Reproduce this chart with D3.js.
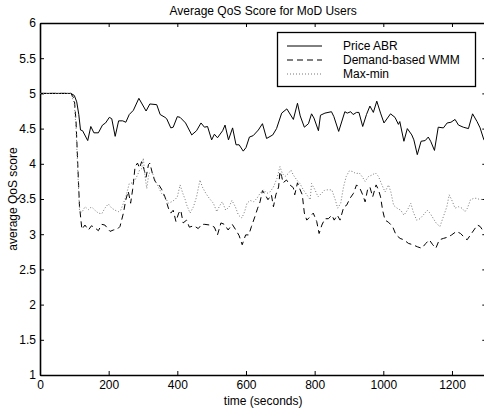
<!DOCTYPE html>
<html>
<head>
<meta charset="utf-8">
<script src="https://cdn.jsdelivr.net/npm/d3@7"></script>
<style>
  body { margin: 0; background: #fff; }
  svg text { font-family: "Liberation Sans", Arial, sans-serif; fill: #000; }
</style>
</head>
<body>
<svg id="chart" width="484" height="411"></svg>
<script>
// time points (s) and scores
const abrT = [0, 90, 100, 107, 113, 118, 124, 139, 148, 157, 170, 182, 191, 202, 209, 219, 229, 241, 250, 260, 272, 288, 309, 320, 340, 350, 364, 369, 381, 388, 400, 408, 424, 442, 456, 469, 479, 488, 500, 508, 517, 532, 539, 549, 561, 571, 580, 592, 600, 610, 621, 636, 648, 660, 678, 689, 704, 719, 738, 750, 758, 770, 782, 791, 798, 811, 817, 830, 849, 856, 870, 888, 895, 905, 912, 922, 929, 940, 951, 961, 971, 981, 992, 1002, 1021, 1034, 1044, 1048, 1060, 1070, 1083, 1089, 1099, 1110, 1122, 1131, 1138, 1149, 1160, 1175, 1186, 1197, 1209, 1219, 1233, 1248, 1260, 1273, 1282, 1293, 1300];
const abrV = [5.0, 5.0, 4.97, 4.88, 4.70, 4.48, 4.47, 4.33, 4.53, 4.44, 4.44, 4.55, 4.58, 4.66, 4.64, 4.39, 4.61, 4.61, 4.59, 4.70, 4.76, 4.93, 4.75, 4.85, 4.84, 4.70, 4.66, 4.64, 4.51, 4.52, 4.67, 4.66, 4.58, 4.41, 4.47, 4.58, 4.52, 4.53, 4.34, 4.42, 4.37, 4.47, 4.55, 4.34, 4.51, 4.27, 4.27, 4.18, 4.23, 4.38, 4.40, 4.48, 4.57, 4.36, 4.41, 4.50, 4.72, 4.78, 4.63, 4.86, 4.68, 4.52, 4.57, 4.71, 4.65, 4.47, 4.69, 4.72, 4.74, 4.67, 4.46, 4.74, 4.72, 4.74, 4.70, 4.73, 4.73, 4.53, 4.70, 4.82, 4.73, 4.89, 4.72, 4.58, 4.71, 4.66, 4.56, 4.60, 4.32, 4.50, 4.41, 4.34, 4.13, 4.32, 4.33, 4.38, 4.32, 4.19, 4.52, 4.51, 4.58, 4.59, 4.63, 4.55, 4.52, 4.50, 4.71, 4.60, 4.51, 4.34, 4.36];

const wmmT = [0, 90, 100, 105, 110, 115, 122, 131, 141, 150, 160, 170, 180, 189, 204, 214, 225, 233, 243, 250, 257, 264, 270, 277, 284, 290, 296, 303, 309, 316, 320, 328, 335, 345, 354, 364, 374, 381, 388, 396, 404, 410, 417, 427, 435, 448, 461, 471, 480, 495, 508, 517, 527, 537, 548, 560, 573, 580, 589, 599, 608, 616, 626, 634, 641, 648, 656, 664, 674, 680, 687, 695, 699, 704, 708, 718, 728, 738, 742, 750, 757, 764, 770, 777, 787, 796, 806, 813, 821, 830, 840, 850, 857, 866, 874, 885, 893, 903, 913, 922, 932, 940, 947, 954, 961, 969, 979, 986, 992, 998, 1005, 1015, 1027, 1037, 1049, 1060, 1073, 1086, 1100, 1112, 1124, 1134, 1144, 1153, 1163, 1175, 1189, 1199, 1213, 1225, 1235, 1244, 1254, 1264, 1274, 1282, 1289, 1300];
const wmmV = [5.0, 5.0, 4.92, 4.60, 4.00, 3.40, 3.07, 3.13, 3.06, 3.12, 3.09, 3.05, 3.14, 3.13, 3.04, 3.06, 3.07, 3.11, 3.30, 3.49, 3.61, 3.44, 3.64, 3.96, 4.01, 3.94, 4.03, 3.92, 3.81, 3.99, 4.01, 3.85, 3.75, 3.71, 3.64, 3.53, 3.37, 3.30, 3.34, 3.18, 3.30, 3.34, 3.16, 3.20, 3.10, 3.12, 3.08, 3.14, 3.14, 3.13, 3.10, 2.99, 3.16, 3.14, 3.06, 3.14, 3.04, 2.98, 2.85, 2.99, 2.99, 3.11, 3.25, 3.37, 3.46, 3.62, 3.56, 3.49, 3.56, 3.39, 3.56, 3.67, 3.89, 3.82, 3.73, 3.77, 3.70, 3.66, 3.56, 3.73, 3.64, 3.56, 3.30, 3.20, 3.25, 3.30, 3.18, 3.01, 3.13, 3.22, 3.22, 3.27, 3.20, 3.27, 3.20, 3.39, 3.41, 3.51, 3.58, 3.70, 3.65, 3.56, 3.46, 3.63, 3.67, 3.53, 3.70, 3.63, 3.53, 3.34, 3.20, 3.17, 3.11, 2.99, 2.94, 2.92, 2.87, 2.85, 2.82, 2.80, 2.87, 2.92, 2.85, 2.80, 2.92, 2.94, 2.96, 2.99, 3.04, 3.01, 2.96, 2.92, 2.99, 3.06, 3.13, 3.11, 3.06, 3.00];

const mmT = [0, 90, 100, 105, 110, 115, 122, 131, 141, 150, 160, 170, 180, 189, 199, 209, 219, 228, 235, 243, 250, 260, 270, 277, 284, 290, 296, 301, 306, 311, 317, 326, 335, 345, 354, 364, 374, 383, 393, 400, 408, 416, 423, 427, 437, 447, 456, 466, 473, 483, 493, 505, 515, 524, 531, 541, 551, 559, 569, 578, 588, 596, 603, 612, 622, 632, 641, 651, 661, 670, 680, 690, 699, 706, 714, 723, 731, 738, 748, 757, 767, 777, 787, 791, 801, 810, 820, 830, 840, 850, 860, 867, 876, 884, 892, 901, 911, 920, 930, 938, 947, 957, 967, 977, 986, 996, 1005, 1015, 1022, 1030, 1040, 1051, 1060, 1070, 1080, 1087, 1097, 1107, 1116, 1128, 1136, 1146, 1155, 1165, 1175, 1185, 1192, 1199, 1209, 1219, 1229, 1238, 1245, 1254, 1264, 1272, 1282, 1292, 1300];
const mmV = [5.0, 5.0, 4.85, 4.50, 3.90, 3.34, 3.31, 3.39, 3.35, 3.39, 3.34, 3.30, 3.29, 3.37, 3.43, 3.37, 3.34, 3.32, 3.34, 3.44, 3.53, 3.72, 3.73, 3.77, 3.84, 3.91, 3.93, 4.08, 3.82, 3.65, 3.86, 3.89, 3.77, 3.67, 3.58, 3.53, 3.44, 3.46, 3.49, 3.53, 3.70, 3.58, 3.49, 3.42, 3.30, 3.39, 3.53, 3.77, 3.67, 3.58, 3.51, 3.44, 3.32, 3.41, 3.46, 3.34, 3.39, 3.48, 3.39, 3.27, 3.23, 3.32, 3.44, 3.48, 3.46, 3.51, 3.58, 3.63, 3.58, 3.60, 3.67, 3.79, 3.96, 3.86, 3.82, 3.86, 3.91, 3.84, 3.77, 3.72, 3.63, 3.56, 3.49, 3.72, 3.63, 3.53, 3.58, 3.63, 3.63, 3.63, 3.49, 3.37, 3.44, 3.67, 3.82, 3.90, 3.89, 3.86, 3.87, 3.82, 3.75, 3.82, 3.84, 3.87, 3.82, 3.70, 3.60, 3.70, 3.60, 3.41, 3.37, 3.34, 3.27, 3.34, 3.44, 3.32, 3.20, 3.22, 3.27, 3.34, 3.30, 3.22, 3.15, 3.11, 3.25, 3.39, 3.56, 3.49, 3.37, 3.39, 3.37, 3.32, 3.37, 3.49, 3.51, 3.51, 3.49, 3.50, 3.50];

const seriesNames = ['Price ABR', 'Demand-based WMM', 'Max-min'];
const xTicks = [0, 200, 400, 600, 800, 1000, 1200];
const yTicks = [1, 1.5, 2, 2.5, 3, 3.5, 4, 4.5, 5, 5.5, 6];

const svg = d3.select('#chart');
const plotL = 40, plotT = 23, plotB = 375, plotR = 486.3;
const fs = 12;

const x = d3.scaleLinear().domain([0, 1300]).range([plotL, plotR]);
const y = d3.scaleLinear().domain([1, 6]).range([plotB, plotT]);

// title and axis labels
svg.append('text')
  .attr('x', (plotL + plotR) / 2).attr('y', 15)
  .attr('text-anchor', 'middle').attr('font-size', fs)
  .text('Average QoS Score for MoD Users');

svg.append('text')
  .attr('x', (plotL + plotR) / 2).attr('y', 405)
  .attr('text-anchor', 'middle').attr('font-size', fs)
  .text('time (seconds)');

svg.append('text')
  .attr('transform', `translate(17,${(plotT + plotB) / 2}) rotate(-90)`)
  .attr('text-anchor', 'middle').attr('font-size', fs)
  .text('average QoS score');

// axes, ticks pointing inward
const fmt = d3.format('');
const gx = svg.append('g').attr('transform', `translate(0,${plotB})`)
  .call(d3.axisBottom(x).tickValues(xTicks).tickFormat(fmt).tickSizeInner(-4).tickSizeOuter(0).tickPadding(5));
const gxTop = svg.append('g').attr('transform', `translate(0,${plotT})`)
  .call(d3.axisTop(x).tickValues(xTicks).tickFormat('').tickSizeInner(-4).tickSizeOuter(0));
const gy = svg.append('g').attr('transform', `translate(${plotL},0)`)
  .call(d3.axisLeft(y).tickValues(yTicks).tickFormat(fmt).tickSizeInner(-4).tickSizeOuter(0).tickPadding(4));
const gyRight = svg.append('g').attr('transform', `translate(${plotR},0)`)
  .call(d3.axisRight(y).tickValues(yTicks).tickFormat('').tickSizeInner(-4).tickSizeOuter(0));

[gx, gxTop, gy, gyRight].forEach(g => {
  g.selectAll('text').attr('font-size', fs).attr('font-family', '"Liberation Sans", Arial, sans-serif');
  g.selectAll('.tick line').attr('stroke', '#000');
  g.select('.domain').attr('stroke', '#000').attr('stroke-width', 1.6);
});

const line = d3.line().x(d => x(d[0])).y(d => y(d[1]));
const zipPts = (t, v) => t.map((ti, i) => [ti, v[i]]);

const styles = [
  { color: '#000', dash: null },
  { color: '#000', dash: '6,4' },
  { color: '#777', dash: '1,2' }
];
const seriesData = [zipPts(abrT, abrV), zipPts(wmmT, wmmV), zipPts(mmT, mmV)];

seriesData.forEach((pts, i) => {
  svg.append('path')
    .datum(pts)
    .attr('d', line)
    .attr('fill', 'none')
    .attr('stroke', styles[i].color)
    .attr('stroke-width', 1)
    .attr('stroke-dasharray', styles[i].dash);
});

// legend
const lg = svg.append('g');
lg.append('rect')
  .attr('x', 277.5).attr('y', 32.5).attr('width', 198).attr('height', 54)
  .attr('fill', '#fff').attr('stroke', '#000').attr('stroke-width', 1.3);
seriesNames.forEach((name, i) => {
  const cy = 46 + i * 14;
  lg.append('line')
    .attr('x1', 287).attr('x2', 322).attr('y1', cy).attr('y2', cy)
    .attr('stroke', styles[i].color).attr('stroke-width', 1)
    .attr('stroke-dasharray', styles[i].dash);
  lg.append('text')
    .attr('x', 343).attr('y', cy + 4)
    .attr('font-size', fs)
    .text(name);
});
</script>
</body>
</html>
